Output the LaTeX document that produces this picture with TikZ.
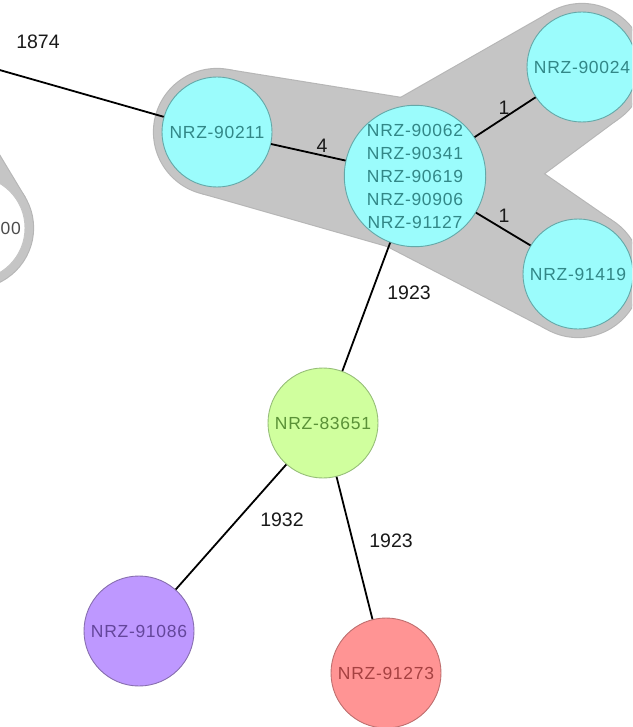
\documentclass[tikz,border=0pt]{standalone}
\usepackage{fontspec}
\setmainfont{Liberation Sans}
\newfontfamily\nodefont[LetterSpace=4]{Liberation Sans}
\usetikzlibrary{calc}
\definecolor{hullgray}{RGB}{197,197,197}
\definecolor{hulledge}{RGB}{182,182,182}
\definecolor{cyanfill}{RGB}{155,252,252}
\definecolor{cyanedge}{RGB}{100,168,168}
\definecolor{cyantext}{RGB}{50,135,135}
\definecolor{greenfill}{RGB}{208,255,158}
\definecolor{greenedge}{RGB}{150,190,120}
\definecolor{greentext}{RGB}{90,145,55}
\definecolor{purplefill}{RGB}{190,152,255}
\definecolor{purpleedge}{RGB}{135,110,175}
\definecolor{purpletext}{RGB}{100,70,155}
\definecolor{redfill}{RGB}{255,148,148}
\definecolor{rededge}{RGB}{190,110,110}
\definecolor{redtext}{RGB}{165,65,65}
\definecolor{labeltext}{RGB}{25,25,25}
\begin{document}
\begin{tikzpicture}[x=1pt,y=-1pt,
  strain/.style={circle,inner sep=0pt,minimum size=110pt,line width=0.9pt,
    font=\nodefont\fontsize{17.5}{23}\selectfont,align=center},
  cyannode/.style={strain,fill=cyanfill,draw=cyanedge,text=cyantext},
  bignode/.style={cyannode,minimum size=130pt},
  greennode/.style={strain,fill=greenfill,draw=greenedge,text=greentext},
  purplenode/.style={strain,fill=purplefill,draw=purpleedge,text=purpletext},
  rednode/.style={strain,fill=redfill,draw=rededge,text=redtext},
  whitenode/.style={strain,fill=white,draw=hulledge!80!white},
  link/.style={draw=black,line width=1.8pt},
  elabel/.style={font=\fontsize{19.5}{21}\selectfont,text=labeltext,inner sep=1pt},
  hullfill/.style={fill=hullgray},
  hullline/.style={draw=hulledge,line width=2.2pt,fill=hulledge}
]
\useasboundingbox (0,0) rectangle (632,727);
\clip (0,0) rectangle (632,727);

% centres
\coordinate (cA) at (217,132);
\coordinate (cC) at (415,176);
\coordinate (cB) at (582,67);
\coordinate (cD) at (578,274);
\coordinate (cE) at (323,423);
\coordinate (cF) at (139,631);
\coordinate (cG) at (386,673);
\coordinate (cL) at (-27,228);
\coordinate (cT) at (-130,57);
\coordinate (cX) at (-60,53);

% hull shapes (outline pass, then fill pass)
\foreach \sty in {hullline,hullfill}{
  \path[\sty] ($(cA)!63pt!90:(cC)$) -- ($(cC)!75pt!-90:(cA)$) -- ($(cC)!75pt!90:(cA)$) -- ($(cA)!63pt!-90:(cC)$) -- cycle;
  \path[\sty] ($(cC)!75pt!90:(cB)$) -- ($(cB)!63pt!-90:(cC)$) -- ($(cB)!63pt!90:(cC)$) -- ($(cC)!75pt!-90:(cB)$) -- cycle;
  \path[\sty] ($(cC)!75pt!90:(cD)$) -- ($(cD)!63pt!-90:(cC)$) -- ($(cD)!63pt!90:(cC)$) -- ($(cC)!75pt!-90:(cD)$) -- cycle;
  \path[\sty] (cA) circle (63) (cC) circle (75) (cB) circle (63) (cD) circle (63);
  \path[\sty] ($(cL)!60pt!90:(cT)$) -- ($(cT)!60pt!-90:(cL)$) -- ($(cT)!60pt!90:(cL)$) -- ($(cL)!60pt!-90:(cT)$) -- cycle;
  \path[\sty] (cL) circle (60);
}

% nodes
\node[cyannode] (nA) at (cA) {NRZ-90211};
\node[bignode] (nC) at (cC) {NRZ-90062\\NRZ-90341\\NRZ-90619\\NRZ-90906\\NRZ-91127};
\node[cyannode] (nB) at (cB) {NRZ-90024};
\node[cyannode] (nD) at (cD) {NRZ-91419};
\node[greennode] (nE) at (cE) {NRZ-83651};
\node[purplenode] (nF) at (cF) {NRZ-91086};
\node[rednode] (nG) at (cG) {NRZ-91273};
\node[whitenode,minimum size=104pt] (nL) at (cL) {};
\node[anchor=east,font=\nodefont\fontsize{17.5}{23}\selectfont,text=black!70,inner sep=0pt] (tL) at (21,228) {00};

% connectors
\draw[link] (cX) -- (nA);
\draw[link] (nA) -- (nC);
\draw[link] (nC) -- (nB);
\draw[link] (nC) -- (nD);
\draw[link] (nC) -- (nE);
\draw[link] (nE) -- (nF);
\draw[link] (nE) -- (nG);

% edge labels
\node[elabel] (l1) at (38,42) {1874};
\node[elabel] (l2) at (322,146) {4};
\node[elabel] (l3) at (504,108) {1};
\node[elabel] (l4) at (504,216) {1};
\node[elabel] (l5) at (409,293) {1923};
\node[elabel] (l6) at (282,520) {1932};
\node[elabel] (l7) at (391,541) {1923};
\end{tikzpicture}
\end{document}
